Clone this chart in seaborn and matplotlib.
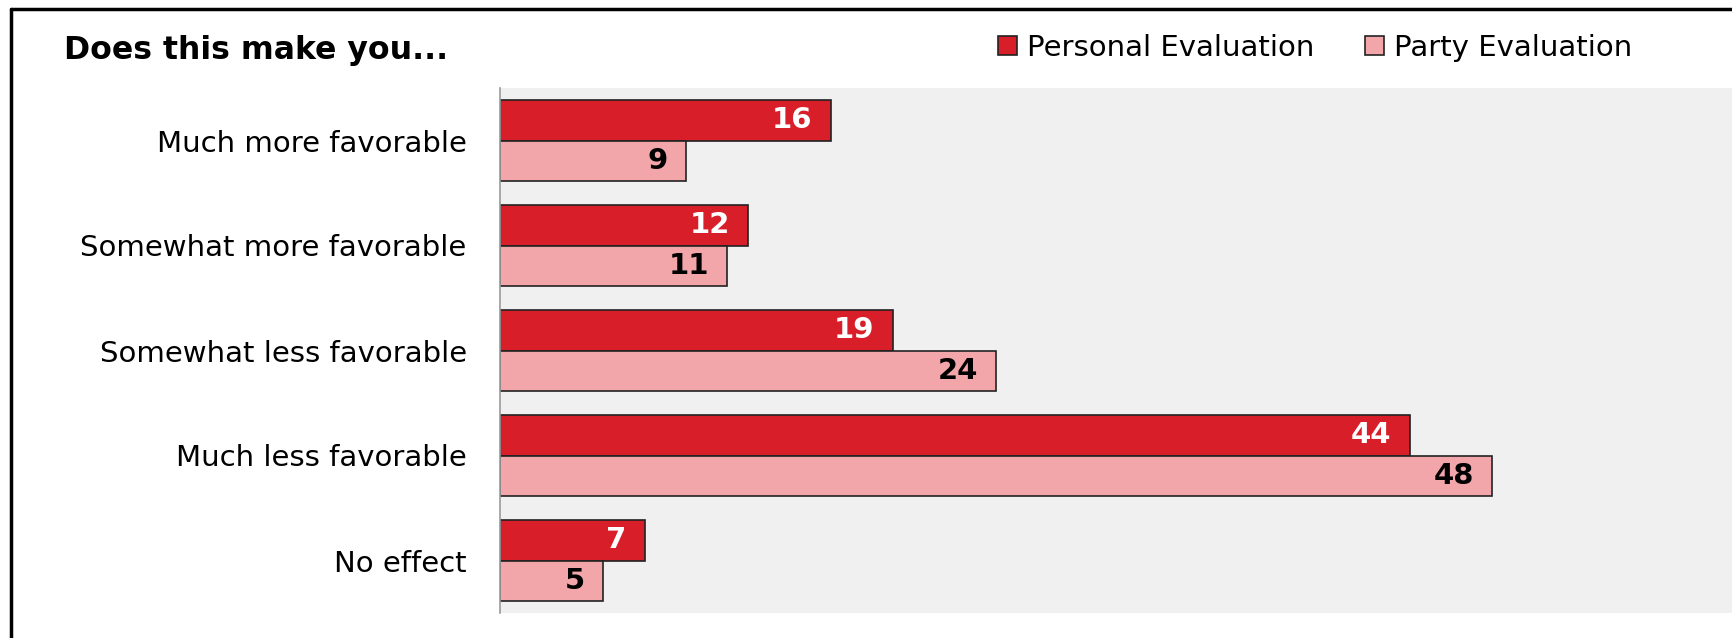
import numpy as np
import pandas as pd
import seaborn as sns
import matplotlib.pyplot as plt
from matplotlib.lines import Line2D

# data
categories = ["Much more favorable", "Somewhat more favorable", "Somewhat less favorable",
              "Much less favorable", "No effect"]
personal = [16, 12, 19, 44, 7]
party = [9, 11, 24, 48, 5]
series_names = ["Personal Evaluation", "Party Evaluation"]
colors = {"Personal Evaluation": "#D81E28", "Party Evaluation": "#F2A6AA"}
label_colors = ["white", "black"]

df = pd.DataFrame({
    "category": categories * 2,
    "value": personal + party,
    "series": [series_names[0]] * len(categories) + [series_names[1]] * len(categories),
})

sns.set_theme(style="white")
plt.rcParams['font.family'] = ['DejaVu Sans']
plt.rcParams['text.color'] = 'black'

W, H = 1733, 638
fig = plt.figure(figsize=(W / 100, H / 100), dpi=100)
ax = fig.add_axes([500 / W, 1 - 613 / H, 1 - 500 / W, (613 - 88) / H])

sns.barplot(data=df, y="category", x="value", hue="series", orient="h",
            order=categories, hue_order=series_names, palette=colors, saturation=1,
            width=0.762, edgecolor="#222222", linewidth=1.2, ax=ax, legend=True)

ax.set_facecolor("#F0F0F0")
ax.set_xlim(0, 59.65)
ax.set_ylim(4.5, -0.5)
ax.set_xlabel("")
ax.set_ylabel("")
ax.set_xticks([])
for s in ["top", "right", "bottom"]:
    ax.spines[s].set_visible(False)
ax.spines["left"].set_color("#9A9A9A")
ax.spines["left"].set_linewidth(1.2)
ax.tick_params(axis="y", length=0, pad=24, labelsize=21, labelcolor="black")

# value labels inside bar ends
for cont, lc in zip(ax.containers, label_colors):
    texts = ax.bar_label(cont, padding=-13, color=lc, fontsize=21, fontweight="bold")
    for t in texts:
        t.set_ha("right")

# legend at top
handles, labels = ax.get_legend_handles_labels()
leg = ax.legend(handles, labels, loc="center left", bbox_to_anchor=(998 / W, 1 - 48 / H),
                bbox_transform=fig.transFigure, ncol=2, frameon=False, fontsize=21,
                handlelength=0.65, handleheight=0.65, handletextpad=0.34, columnspacing=1.75,
                borderaxespad=0, borderpad=0)
for t in leg.get_texts():
    t.set_color("black")

fig.text(64 / W, 1 - 51 / H, "Does this make you...", fontsize=22.7, fontweight="bold",
         ha="left", va="center", color="black")

# frame lines (left and top)
fig.add_artist(Line2D([11 / W, 11 / W], [0, 1 - 9 / H], transform=fig.transFigure,
                      color="black", linewidth=2.5))
fig.add_artist(Line2D([11 / W, 1], [1 - 9 / H, 1 - 9 / H], transform=fig.transFigure,
                      color="black", linewidth=2.5))

fig.savefig("out.png", dpi=100)
